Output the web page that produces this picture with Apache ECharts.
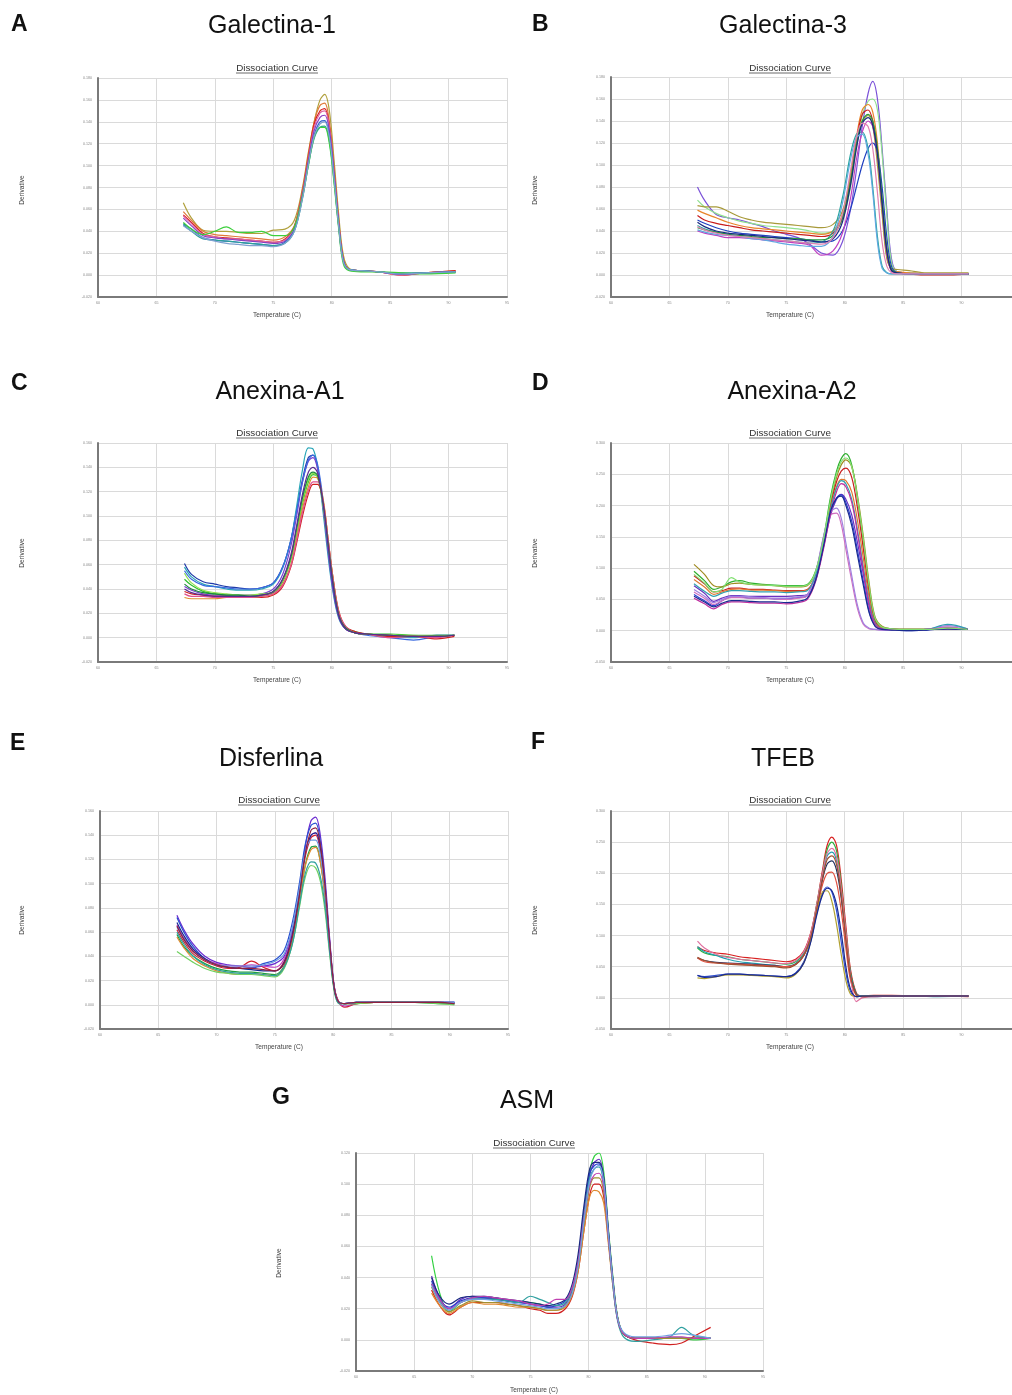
<!DOCTYPE html>
<html><head><meta charset="utf-8">
<script src="https://cdn.jsdelivr.net/npm/echarts@6/dist/echarts.min.js"></script>
<style>html,body{margin:0;padding:0;background:#fff}#c{width:1012px;height:1395px}</style>
</head><body><div id="c"></div>
<script>
// ---- DATA (derivative values in thousandths, temperatures in °C) ----
const xTicks = [60, 65, 70, 75, 80, 85, 90, 95];

const galectina1Temp = [67.3,68,69,70,71,72,73,74,75,76,76.8,77.5,78,78.5,79,79.4,79.8,80.2,80.6,81,81.5,82.5,84,86,88,90.6];
const galectina1Curves = [
 [66,52,41,40,40,39,38,38,41,42,50,80,112,140,160,165,150,105,55,18,6,4,3,1,2,3],
 [58,50,40,37,36,35,34,33,32,35,45,78,110,140,155,157,140,98,50,15,5,4,3,1,2,4],
 [55,48,38,35,34,33,32,31,30,33,44,76,108,138,150,152,136,95,48,14,5,4,3,0,2,4],
 [54,47,37,35,33,33,32,31,30,32,43,75,106,135,148,150,135,94,48,14,5,4,3,0,2,3],
 [52,45,36,34,33,32,31,30,29,31,42,73,104,132,144,146,132,92,46,13,5,4,3,1,2,3],
 [47,42,34,32,31,30,29,28,27,30,41,72,102,128,140,141,128,90,45,13,5,4,3,1,2,3],
 [46,40,33,32,31,30,29,28,27,29,40,70,100,125,135,136,122,86,44,12,5,4,3,2,2,3],
 [48,42,37,40,44,39,39,40,36,36,44,72,100,126,135,135,120,84,42,10,4,3,3,2,1,2],
 [45,40,34,31,29,28,27,27,26,29,40,70,101,127,138,140,126,88,44,12,5,4,3,1,2,3]
];

const galectina3Temp = [67.4,68,69,70,71,72,73,74,75,76,77,78,79,79.8,80.5,81,81.5,82,82.4,82.8,83.2,83.6,84,84.5,85.5,87,89,90.6];
const galectina3Curves = [
 [80,68,55,52,50,47,44,40,37,34,28,20,18,30,60,95,135,165,176,160,115,60,15,3,2,1,1,1],
 [68,62,56,52,49,47,45,44,43,42,40,38,40,50,80,115,145,158,160,150,110,55,12,3,2,1,1,1],
 [59,56,52,48,45,43,42,41,40,39,38,37,40,55,90,125,150,155,148,120,70,25,5,3,2,1,1,1],
 [54,50,47,45,43,41,40,39,38,37,36,35,38,52,88,122,146,150,140,110,60,18,4,2,1,0,0,1],
 [63,62,62,58,53,50,48,47,46,45,44,43,46,58,90,120,140,145,135,100,55,15,6,5,4,2,2,2],
 [50,47,43,40,38,37,36,35,34,33,32,30,31,40,60,80,100,115,120,112,80,35,8,2,1,1,1,1],
 [45,42,39,37,35,34,33,32,31,30,29,30,40,70,110,128,130,115,80,35,8,2,1,1,1,1,1,1],
 [40,38,36,34,34,33,32,31,30,29,27,18,22,38,70,105,130,140,135,110,65,20,4,2,1,1,1,1],
 [43,41,39,37,36,35,34,34,33,33,32,32,36,52,85,118,140,146,140,115,70,25,5,2,1,1,1,1],
 [48,44,40,38,37,36,35,34,33,32,31,30,33,48,82,115,138,143,136,110,65,22,4,2,1,1,1,1],
 [41,39,37,36,35,33,32,30,28,27,26,26,35,65,105,125,128,110,75,30,6,2,1,1,1,1,1,1],
 [44,41,38,36,35,34,33,32,31,30,29,28,34,55,95,125,138,135,115,75,30,8,2,1,1,1,1,1]
];

const anexinaA1Temp = [67.4,68,69,70,71,72,73,74,75,75.8,76.5,77,77.5,78,78.4,78.8,79.3,79.7,80.1,80.6,81.2,82,83,85,87,89,90.5];
const anexinaA1Curves = [
 [61,52,46,44,42,41,40,41,45,58,80,105,130,148,150,140,105,72,42,18,8,4,3,2,1,2,2],
 [58,50,44,42,40,39,39,40,44,57,80,108,138,156,155,140,100,66,38,16,7,4,3,1,0,2,2],
 [42,39,36,35,35,35,35,36,40,52,75,100,128,145,148,138,104,70,40,17,7,4,3,2,1,1,2],
 [55,48,43,42,41,40,40,41,45,58,80,104,128,146,150,142,110,75,44,18,8,4,2,0,-2,1,2],
 [48,43,38,36,35,35,34,35,37,46,64,86,110,128,134,132,108,78,48,20,8,5,3,3,2,2,2],
 [53,45,39,37,36,35,35,36,38,47,65,87,112,130,135,132,106,76,46,19,8,4,3,2,2,1,2],
 [38,36,35,34,34,33,33,33,35,42,58,78,100,118,126,126,110,80,50,22,9,5,3,1,1,-1,1],
 [33,32,32,32,33,33,33,34,36,44,60,82,106,124,132,131,112,80,50,21,8,4,3,2,1,1,2],
 [36,34,34,33,33,33,33,34,36,43,59,80,103,121,128,128,110,80,49,21,9,4,3,0,1,0,2],
 [44,40,37,36,35,35,34,35,38,48,66,90,115,132,136,133,108,77,46,19,8,4,3,2,1,1,2],
 [40,37,35,34,34,34,34,35,38,48,68,92,118,136,140,135,108,75,44,18,7,4,3,2,1,1,2]
];

const anexinaA2Temp = [67.1,68,68.8,69.5,70.3,71,72,73,74,75,76,76.8,77.5,78.2,78.8,79.3,79.7,80.1,80.6,81.1,81.6,82.1,82.6,83.2,84,85.5,87,88.8,90.5];
const anexinaA2Curves = [
 [95,80,66,70,78,80,76,74,73,72,72,74,95,150,215,255,275,283,265,210,140,65,18,6,3,2,2,4,2],
 [106,90,72,70,75,76,74,73,72,70,70,72,92,145,205,245,265,273,262,215,150,75,22,7,3,2,2,4,2],
 [88,75,62,64,68,68,66,66,65,64,64,66,88,140,200,238,255,260,245,195,130,60,15,4,2,2,2,3,2],
 [82,70,58,62,66,67,65,65,64,63,63,65,86,138,196,230,242,240,222,175,115,52,12,4,2,1,2,3,2],
 [72,60,47,52,56,56,55,55,55,55,56,58,82,135,185,210,218,210,185,140,90,38,10,3,2,1,2,4,2],
 [58,48,40,48,54,54,52,52,51,51,53,56,80,138,190,212,217,205,175,128,78,30,8,2,1,0,1,3,2],
 [62,52,42,48,53,53,52,52,51,50,52,56,90,150,185,188,170,130,80,35,10,3,2,1,1,1,2,6,2],
 [66,55,45,50,55,55,54,53,52,52,54,58,92,152,190,196,180,140,88,40,12,4,2,1,1,1,2,8,3],
 [75,63,55,60,64,64,63,62,62,61,62,64,88,140,195,228,240,235,210,160,100,45,12,3,2,1,2,10,3],
 [52,43,35,42,46,46,45,44,44,43,45,50,78,132,188,222,235,230,205,155,95,40,10,3,2,1,2,4,2],
 [55,46,38,44,48,48,47,46,46,45,47,52,80,136,192,212,215,200,168,120,72,28,7,2,1,0,1,3,2],
 [90,76,62,66,85,78,74,73,72,71,71,73,94,148,210,250,270,276,262,212,145,70,20,6,3,2,2,4,2]
];

const disferlinaTemp = [66.6,67.2,68,69,70,71,72,73,74,75,75.8,76.5,77.1,77.6,78.1,78.5,78.9,79.3,79.7,80.1,80.5,81,82,83.5,85,87,89,90.4];
const disferlinaCurves = [
 [74,62,50,40,35,33,32,31,32,34,40,62,95,130,152,155,140,105,55,15,2,1,2,2,2,2,2,2],
 [72,60,48,38,33,31,30,30,34,37,45,68,100,132,148,150,135,100,52,14,2,1,2,2,2,2,2,2],
 [62,52,42,36,32,30,31,36,31,28,36,58,90,122,138,140,126,94,50,14,2,-2,1,2,2,2,2,1],
 [66,55,45,38,34,32,32,33,32,31,38,60,92,125,140,142,130,98,52,14,2,-1,1,2,2,2,2,1],
 [58,48,40,34,30,28,27,27,26,25,32,52,84,115,130,131,118,90,48,13,2,1,1,2,2,2,1,1],
 [56,47,38,32,28,26,25,26,25,24,31,52,84,114,128,130,118,88,47,12,2,1,1,2,2,2,2,1],
 [44,40,35,30,27,26,25,25,24,23,30,50,80,105,115,113,102,78,42,11,1,1,1,2,2,2,1,0],
 [60,50,40,33,29,27,26,26,25,24,31,50,82,108,118,117,106,82,44,12,1,1,2,2,2,2,2,1],
 [68,57,46,38,33,31,30,29,28,28,35,58,92,125,140,142,130,96,50,13,2,1,2,2,2,2,2,2],
 [64,54,44,37,33,32,32,32,33,36,42,64,96,126,136,136,124,94,50,14,2,1,2,2,2,2,2,2],
 [65,54,44,37,33,31,30,30,29,28,34,56,90,124,144,146,132,98,52,14,2,1,2,2,2,2,2,1]
];

const tfebTemp = [67.4,68,69,70,71,72,73,74,75,75.8,76.5,77.1,77.6,78.1,78.5,78.9,79.3,79.7,80.1,80.5,81,81.5,82.5,84,86,88,90.6];
const tfebCurves = [
 [82,76,72,70,66,64,62,60,58,62,75,105,150,205,245,258,245,190,115,45,8,3,4,4,3,3,2],
 [80,72,68,66,62,60,58,56,54,58,72,102,148,200,238,250,236,180,105,40,6,3,3,3,3,3,3],
 [82,74,68,62,58,56,54,52,50,55,70,100,145,195,228,234,220,170,100,38,6,3,3,3,3,2,3],
 [64,60,57,56,55,54,53,52,50,54,68,98,142,190,215,220,205,160,95,35,5,2,2,3,3,3,3],
 [64,58,56,55,54,53,52,51,50,54,68,98,140,182,200,202,185,140,80,28,4,2,3,3,3,3,3],
 [36,34,36,38,38,37,36,35,34,40,58,92,135,168,178,170,140,90,40,10,2,3,3,3,3,3,3],
 [32,31,34,37,37,36,35,34,32,38,56,92,140,170,172,155,118,70,28,6,2,3,3,3,3,3,3],
 [91,80,70,65,62,60,58,56,55,60,74,104,148,200,232,240,226,175,105,35,-6,0,2,3,3,3,3],
 [65,60,56,54,53,52,51,50,48,53,68,98,142,192,222,228,214,165,95,34,5,2,3,3,3,3,3],
 [36,33,34,38,38,37,36,35,34,39,56,90,132,165,176,172,150,105,50,14,2,3,3,3,3,3,3]
];

const asmTemp = [66.5,67.2,68,69,70,71,72,73,74,75,75.8,76.5,77.2,78,78.6,79.1,79.6,80.1,80.5,80.9,81.3,81.7,82.1,82.5,83,84,85.5,87,88,89,90.5];
const asmCurves = [
 [54,30,18,24,27,27,26,25,24,24,23,21,20,22,30,48,78,108,118,120,108,72,40,15,4,1,1,1,1,0,1],
 [41,27,20,26,28,27,26,25,24,23,22,21,21,23,32,50,80,106,114,116,104,70,38,14,4,1,1,1,1,1,1],
 [38,26,21,25,27,27,27,25,24,23,22,21,22,25,34,52,82,107,112,113,102,68,36,13,4,1,1,1,1,1,1],
 [32,22,16,21,24,24,24,23,22,20,19,17,17,20,28,44,70,93,100,100,92,64,36,14,4,0,-2,-3,-2,2,8],
 [30,22,17,21,24,23,23,22,21,21,20,19,19,21,29,44,70,92,96,95,88,62,34,13,4,1,1,1,1,1,1],
 [36,25,19,24,26,26,26,25,24,28,26,24,22,24,33,50,80,104,110,111,100,66,34,12,2,-1,0,2,8,3,1],
 [40,28,23,27,28,28,27,26,25,24,23,22,23,26,36,55,86,110,114,114,104,70,38,14,4,1,1,1,1,1,1],
 [34,24,18,22,25,24,24,23,22,21,20,19,19,22,30,46,74,98,104,104,95,66,36,14,4,1,1,1,1,1,1],
 [36,26,20,24,27,28,27,26,25,23,22,23,26,26,34,50,78,100,106,107,98,66,36,13,4,1,1,2,2,1,1],
 [35,24,19,24,26,26,25,24,23,22,21,20,20,22,30,47,76,102,110,112,102,68,37,14,5,2,2,3,4,3,1]
];

// ---- STYLE / LAYOUT ----
const pal = {
 A:['#b0a03c','#e07b39','#d62020','#e066a0','#8a3fc0','#3060d0','#2aa198','#3ccf3c','#7fa0d0'],
 B:['#7b52d8','#8fe08f','#e8862a','#c81e1e','#a89a3a','#2040c0','#2aa6a0','#c040c0','#2a9a3a','#1a2a80','#60a8e0','#e080b0'],
 C:['#1f3aa8','#2aa6b8','#7a3fd0','#3a6ae0','#30c030','#90e050','#d02020','#e09030','#e05090','#1a8a3a','#5a2a90'],
 D:['#30b030','#a08a20','#c82020','#e07a30','#6a30c0','#2a40d0','#d070c0','#a080e0','#30a0b0','#c030a0','#1a2a90','#80e070'],
 E:['#6a2ad0','#2850d0','#d02030','#c040c0','#20a040','#e08a30','#70d060','#30a0a0','#1a2a90','#6a9ae0','#902040'],
 F:['#d82020','#30b040','#20a0b0','#203060','#e05040','#3050d0','#b0a030','#e070a0','#a05030','#1a2a90'],
 G:['#30d040','#6a30c0','#2a40d0','#d02020','#e08a30','#30a0a0','#1a2a80','#a09030','#c040b0','#70a0e0']
};
const panels = [
 {k:'A', title:'Galectina-1', t:galectina1Temp, c:galectina1Curves, grid:{left:98,top:78,width:409,height:219}, y:[-20,180,20], L:[20,24], T:[272,26], cx:277, dc:68, der:[22,190], tmp:315},
 {k:'B', title:'Galectina-3', t:galectina3Temp, c:galectina3Curves, grid:{left:611,top:77,width:409,height:220}, y:[-20,180,20], L:[541,24], T:[783,26], cx:790, dc:68, der:[535,190], tmp:315},
 {k:'C', title:'Anexina-A1', t:anexinaA1Temp, c:anexinaA1Curves, grid:{left:98,top:443,width:409,height:219}, y:[-20,160,20], L:[20,383], T:[280,392], cx:277, dc:433, der:[22,553], tmp:680},
 {k:'D', title:'Anexina-A2', t:anexinaA2Temp, c:anexinaA2Curves, grid:{left:611,top:443,width:409,height:219}, y:[-50,300,50], L:[541,383], T:[792,392], cx:790, dc:433, der:[535,553], tmp:680},
 {k:'E', title:'Disferlina', t:disferlinaTemp, c:disferlinaCurves, grid:{left:100,top:811,width:408,height:218}, y:[-20,160,20], L:[19,743], T:[271,759], cx:279, dc:800, der:[22,920], tmp:1047},
 {k:'F', title:'TFEB', t:tfebTemp, c:tfebCurves, grid:{left:611,top:811,width:409,height:218}, y:[-50,300,50], L:[540,742], T:[783,759], cx:790, dc:800, der:[535,920], tmp:1047},
 {k:'G', title:'ASM', t:asmTemp, c:asmCurves, grid:{left:356,top:1153,width:407,height:218}, y:[-20,120,20], L:[281,1097], T:[527,1101], cx:534, dc:1143, der:[279,1263], tmp:1390}
];

const grids=[], xAxes=[], yAxes=[], series=[], graphics=[];
const FF = 'Liberation Sans, Arial, sans-serif';
panels.forEach((p,i)=>{
 grids.push(Object.assign({containLabel:false, outerBoundsMode:'none'}, p.grid));
 xAxes.push({type:'value', gridIndex:i, min:xTicks[0], max:xTicks[xTicks.length-1], interval:5,
  axisLine:{show:true,onZero:false,lineStyle:{color:'#7a7a7a',width:2}}, axisTick:{show:false},
  axisLabel:{fontSize:3.6,color:'#888',margin:4,fontFamily:FF},
  splitLine:{show:true,lineStyle:{color:'#dadada',width:1}}});
 yAxes.push({type:'value', gridIndex:i, min:p.y[0], max:p.y[1], interval:p.y[2],
  axisLine:{show:true,onZero:false,lineStyle:{color:'#7a7a7a',width:2}}, axisTick:{show:false},
  axisLabel:{fontSize:3.6,color:'#888',margin:6,fontFamily:FF,formatter:v=>(v/1000).toFixed(3)},
  splitLine:{show:true,lineStyle:{color:'#dadada',width:1}}});
 p.c.forEach((curve,j)=>{
  series.push({type:'line', xAxisIndex:i, yAxisIndex:i, showSymbol:false, smooth:0.35, silent:true,
   data:p.t.map((t,n)=>[t,curve[n]]),
   lineStyle:{width:1.2,color:pal[p.k][j % pal[p.k].length]}});
 });
 graphics.push({type:'text', left:p.L[0]-9, top:p.L[1]-11, style:{text:p.k, font:'bold 23px '+FF, fill:'#111'}});
 graphics.push({type:'text', x:p.T[0], y:p.T[1], style:{text:p.title, font:'25px '+FF, fill:'#111', textAlign:'center', textVerticalAlign:'middle'}});
 graphics.push({type:'text', x:p.cx, y:p.dc, style:{text:'Dissociation Curve', font:'9.8px '+FF, fill:'#333', textAlign:'center', textVerticalAlign:'middle'}});
 graphics.push({type:'line', shape:{x1:p.cx-41, y1:p.dc+5, x2:p.cx+41, y2:p.dc+5}, style:{stroke:'#444', lineWidth:0.8}});
 graphics.push({type:'text', x:p.der[0], y:p.der[1], rotation:Math.PI/2, style:{text:'Derivative', font:'6.6px '+FF, fill:'#444', textAlign:'center', textVerticalAlign:'middle'}});
 graphics.push({type:'text', x:p.cx, y:p.tmp, style:{text:'Temperature (C)', font:'6.6px '+FF, fill:'#444', textAlign:'center', textVerticalAlign:'middle'}});
});

const chart = echarts.init(document.getElementById('c'), null, {renderer:'canvas', width:1012, height:1395});
chart.setOption({backgroundColor:'#fff', animation:false, grid:grids, xAxis:xAxes, yAxis:yAxes, series:series, graphic:graphics});
</script></body></html>
